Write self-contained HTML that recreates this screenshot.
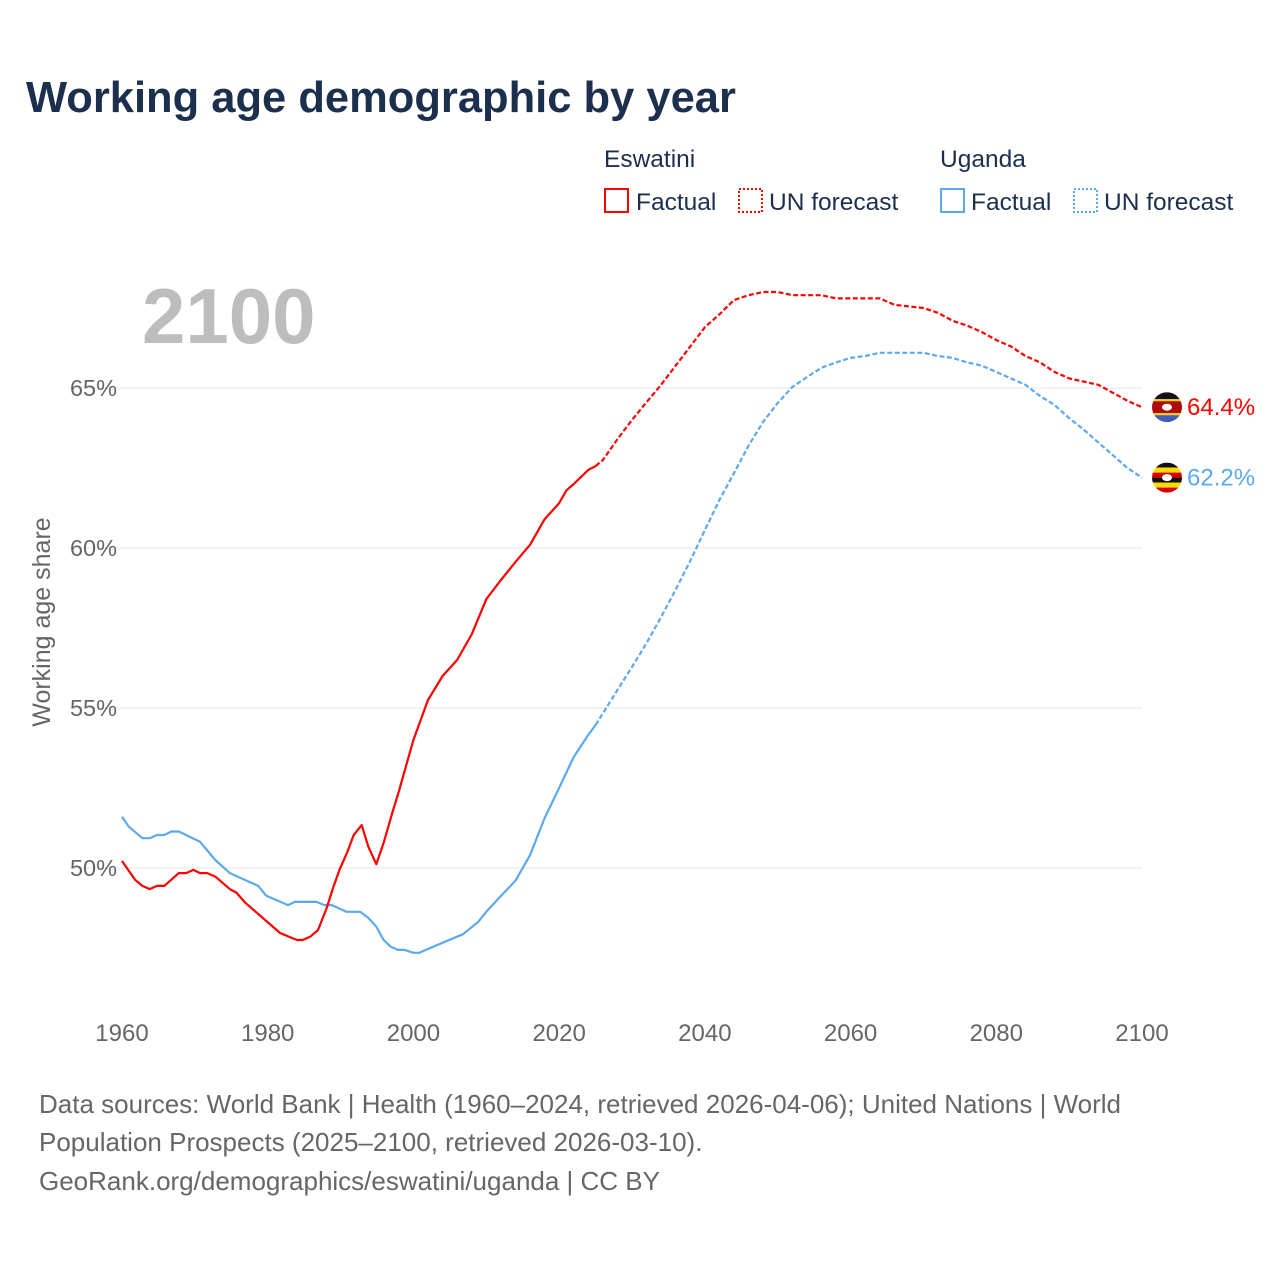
<!DOCTYPE html>
<html><head><meta charset="utf-8"><style>
body{margin:0;background:#fff;}
svg{display:block;font-family:"Liberation Sans",sans-serif;}
</style></head><body>
<svg id="chart" width="1280" height="1280" viewBox="0 0 1280 1280">
<text x="26" y="112" font-size="43.5" font-weight="bold" fill="#1c2f4d">Working age demographic by year</text>
<g font-size="24.5" fill="#1c2f4d">
<text x="604" y="167">Eswatini</text>
<text x="940" y="167">Uganda</text>
<g><rect x="605" y="189" width="23" height="23" fill="none" stroke="#f00" stroke-width="2"/><text x="636" y="210">Factual</text></g>
<g><rect x="739" y="189" width="23" height="23" fill="none" stroke="#f00" stroke-width="2" stroke-dasharray="2,2"/><text x="769" y="210">UN forecast</text></g>
<g><rect x="941" y="189" width="23" height="23" fill="none" stroke="#5ea8ec" stroke-width="2"/><text x="971" y="210">Factual</text></g>
<g><rect x="1074" y="189" width="23" height="23" fill="none" stroke="#5ea8ec" stroke-width="2" stroke-dasharray="2,2"/><text x="1104" y="210">UN forecast</text></g>
</g>
<text x="142" y="343" font-size="78" font-weight="bold" fill="#bdbdbd">2100</text>
<text transform="translate(50,622) rotate(-90)" text-anchor="middle" font-size="25" fill="#666">Working age share</text>
<g id="grid"></g>
<g id="yticks"></g>
<g id="xticks"></g>
<g id="series"></g>
<g id="ends"></g>
<g font-size="26" fill="#666">
<text x="39" y="1113">Data sources: World Bank | Health (1960–2024, retrieved 2026-04-06); United Nations | World</text>
<text x="39" y="1151">Population Prospects (2025–2100, retrieved 2026-03-10).</text>
<text x="39" y="1190">GeoRank.org/demographics/eswatini/uganda | CC BY</text>
</g>
</svg>
<script>
const yTickValues=[50,55,60,65];
const xTickValues=[1960,1980,2000,2020,2040,2060,2080,2100];
const eswYears=[1960,1961.8,1962.8,1963.8,1964.8,1965.8,1967.8,1968.8,1969.8,1970.7,1971.7,1972.8,1974.8,1975.7,1976.9,1981.7,1984,1984.8,1985.8,1986.9,1988.1,1989,1989.9,1990.9,1991.8,1992.9,1993.8,1994.9,1995.9,1997.2,1998,2000,2002,2004,2006,2008,2010,2012,2014,2016,2018,2020,2021,2022,2024,2025];
const eswValues=[50.22,49.63,49.44,49.34,49.44,49.44,49.84,49.84,49.94,49.84,49.84,49.73,49.34,49.23,48.92,47.97,47.75,47.75,47.85,48.06,48.75,49.4,49.97,50.48,51.03,51.34,50.67,50.12,50.78,51.8,52.4,54.0,55.25,56.0,56.5,57.3,58.4,59.0,59.56,60.1,60.9,61.4,61.8,62.0,62.44,62.56];
const eswFcYears=[2025,2026,2028,2030,2032,2034,2036,2038,2040,2042,2044,2046,2048,2050,2052,2056,2058,2060,2064,2066,2070,2072,2074,2076,2078,2080,2082,2084,2086,2088,2090,2092,2094,2096,2098,2100];
const eswFcValues=[62.56,62.75,63.4,64.0,64.56,65.1,65.7,66.3,66.9,67.3,67.75,67.9,68.0,68.0,67.9,67.9,67.8,67.8,67.8,67.6,67.5,67.35,67.1,66.95,66.75,66.5,66.3,66.0,65.8,65.5,65.3,65.2,65.1,64.85,64.6,64.4];
const ugaYears=[1960,1960.9,1962.8,1963.8,1964.8,1965.8,1966.8,1967.8,1970.7,1972.8,1974.8,1978.7,1979.8,1982.8,1983.7,1986.7,1987.8,1988.8,1990.8,1992.7,1993.8,1994.9,1995.9,1996.9,1997.9,1998.8,2000,2000.8,2002.7,2006.8,2008.9,2010,2011.9,2014,2016,2018,2020,2022,2024,2025];
const ugaValues=[51.6,51.3,50.93,50.93,51.03,51.03,51.14,51.14,50.82,50.25,49.84,49.44,49.13,48.84,48.94,48.94,48.84,48.84,48.63,48.63,48.44,48.17,47.75,47.54,47.44,47.44,47.35,47.35,47.54,47.93,48.32,48.63,49.1,49.6,50.4,51.56,52.5,53.47,54.16,54.47];
const ugaFcYears=[2025,2028,2030,2032,2034,2036,2038,2040,2042,2044,2046,2048,2050,2052,2054,2056,2058,2060,2062,2064,2070,2072,2074,2076,2078,2080,2082,2084,2086,2088,2090,2092,2094,2096,2098,2100];
const ugaFcValues=[54.47,55.56,56.28,57.03,57.84,58.7,59.6,60.56,61.5,62.34,63.2,63.94,64.53,65.03,65.34,65.63,65.8,65.94,66.0,66.1,66.1,66.0,65.94,65.8,65.7,65.5,65.3,65.1,64.75,64.47,64.06,63.7,63.3,62.9,62.5,62.2];
const endLabels=["64.4%","62.2%"];

const NS="http://www.w3.org/2000/svg";
const X=y=>122+(y-1960)*(1142-122)/140;
const Y=v=>868-(v-50)*32;
function mk(t,a,p){const e=document.createElementNS(NS,t);for(const k in a)e.setAttribute(k,a[k]);p.appendChild(e);return e;}
const grid=document.getElementById('grid'),yt=document.getElementById('yticks'),xt=document.getElementById('xticks'),ser=document.getElementById('series'),ends=document.getElementById('ends');
yTickValues.forEach(v=>{
 const l=mk('line',{x1:70,x2:1142,y1:Y(v),y2:Y(v),stroke:'#e6e6e6','stroke-width':1},grid);
 
 
 const t=mk('text',{x:117,y:Y(v)+8,'text-anchor':'end','font-size':23.5,fill:'#666'},yt);
 t.textContent=v+'%';
 
 
});
xTickValues.forEach(v=>{
 const t=mk('text',{x:X(v),y:1041,'text-anchor':'middle','font-size':24,fill:'#666'},xt);
 t.textContent=v;
 
 
});
function line(xs,vs,color,dash,name){
 const d=xs.map((x,i)=>(i?'L':'M')+X(x).toFixed(1)+','+Y(vs[i]).toFixed(1)).join('');
 const p=mk('path',{d:d,fill:'none',stroke:color,'stroke-width':2.2,'stroke-linejoin':'round'},ser);
 if(dash)p.setAttribute('stroke-dasharray','5,2.5');
 
 
}
line(ugaYears,ugaValues,'#5ea8ec',false,'uganda-factual-line');
line(ugaFcYears,ugaFcValues,'#5ea8ec',true,'uganda-forecast-line');
line(eswYears,eswValues,'#ff0000',false,'eswatini-factual-line');
line(eswFcYears,eswFcValues,'#ff0000',true,'eswatini-forecast-line');

function flag(cy,stripes,name,color,label){
 const g=mk('g',{},ends);
 
 
 const id='c'+name;
 const cp=mk('clipPath',{id:id},g);mk('circle',{cx:1167,cy:cy,r:15},cp);
 const gg=mk('g',{'clip-path':'url(#'+id+')'},g);
 let y=cy-15;stripes.forEach(s=>{mk('rect',{x:1152,y:y,width:30,height:s[1],fill:s[0]},gg);y+=s[1];});
 mk('ellipse',{cx:1167,cy:cy,rx:5,ry:3.5,fill:'#fff'},gg);
 const t=mk('text',{x:1187,y:cy+8,'font-size':24,fill:color},g);t.textContent=label;
}
const last=eswFcYears.length-1,lastU=ugaFcYears.length-1;
flag(Y(eswFcValues[last]),[['#111',7],['#f6d300',2],['#b10c0c',12],['#f6d300',2],['#3e5eb9',7]],'eswatini-end-label','#ff0000',endLabels[0]);
flag(Y(ugaFcValues[lastU]),[['#111',5],['#fcdc04',5],['#d90000',5],['#111',5],['#fcdc04',5],['#d90000',5]],'uganda-end-label','#5ea8ec',endLabels[1]);
</script>
</body></html>
